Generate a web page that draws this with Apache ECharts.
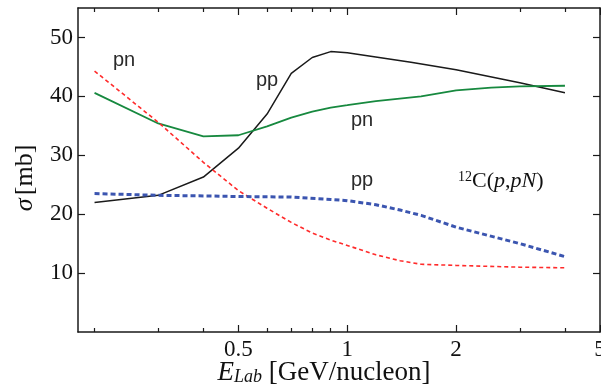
<!DOCTYPE html>
<html>
<head>
<meta charset="utf-8">
<script src="https://cdn.jsdelivr.net/npm/echarts@6/dist/echarts.min.js"></script>
<style>
  html, body { margin: 0; padding: 0; background: #fff; }
  #chart { width: 601px; height: 392px; }
</style>
</head>
<body>
<div id="chart"></div>
<script>
// cross sections sigma [mb] vs E_Lab [GeV/nucleon]
const energyPPfree = [0.2, 0.3, 0.4, 0.5, 0.6, 0.7, 0.8, 0.9, 1.0, 1.5, 2.0, 3.0, 4.0]
const sigmaPPfree = [22.0, 23.2, 26.3, 31.2, 37.0, 43.9, 46.6, 47.6, 47.4, 45.8, 44.5, 42.3, 40.6]

const energyPNfree = [0.2, 0.3, 0.4, 0.5, 0.6, 0.7, 0.8, 0.9, 1.0, 1.2, 1.6, 2.0, 2.5, 3.0, 4.0]
const sigmaPNfree = [40.6, 35.4, 33.2, 33.4, 34.9, 36.4, 37.4, 38.1, 38.5, 39.2, 40.0, 41.0, 41.5, 41.7, 41.8]

const energyPNmed = [0.2, 0.3, 0.4, 0.5, 0.6, 0.7, 0.8, 0.9, 1.0, 1.2, 1.4, 1.6, 2.0, 3.0, 4.0]
const sigmaPNmed = [44.3, 35.6, 28.8, 24.0, 21.0, 18.6, 16.8, 15.6, 14.7, 13.1, 12.1, 11.5, 11.3, 11.0, 10.9]

const energyPPmed = [0.2, 0.3, 0.4, 0.5, 0.7, 0.9, 1.0, 1.2, 1.4, 1.6, 2.0, 3.0, 4.0]
const sigmaPPmed = [23.5, 23.2, 23.1, 23.0, 22.9, 22.5, 22.3, 21.6, 20.7, 19.8, 17.8, 15.0, 12.8]

// axis ticks
const xMajorTicks = [0.5, 1, 2, 5]
const xMinorTicks = [0.2, 0.3, 0.4, 0.6, 0.7, 0.8, 0.9, 3, 4]
const yTicks = [10, 20, 30, 40, 50]

const lg = (v) => Math.log10(v)
const xMin = lg(0.18)
const xMax = lg(5)

const frameColor = "#1a1a1a"
const serif = '"Liberation Serif", "Times New Roman", serif'
const sans = '"Liberation Sans", Arial, sans-serif'

const toPoints = (es, ss) => es.map((e, i) => [lg(e), ss[i]])

function xAxisOf(position, ticks, len, withLine, withLabels) {
  return {
    type: "value",
    position,
    min: xMin,
    max: xMax,
    axisLine: { show: withLine, onZero: false, lineStyle: { color: frameColor, width: 1.5 } },
    axisTick: {
      show: true,
      inside: true,
      length: len,
      customValues: ticks.map(lg),
      lineStyle: { color: frameColor, width: 1.2 },
    },
    axisLabel: {
      show: withLabels,
      customValues: ticks.map(lg),
      margin: 6,
      fontFamily: serif,
      fontSize: 23,
      color: "#111",
      formatter: (v) => String(parseFloat(Math.pow(10, v).toFixed(2))),
    },
    splitLine: { show: false },
  }
}

function yAxisOf(position, withLabels) {
  return {
    type: "value",
    position,
    min: 0,
    max: 55,
    axisLine: { show: true, onZero: false, lineStyle: { color: frameColor, width: 1.5 } },
    axisTick: {
      show: true,
      inside: true,
      length: 7,
      customValues: yTicks,
      lineStyle: { color: frameColor, width: 1.2 },
    },
    axisLabel: {
      show: withLabels,
      customValues: yTicks,
      margin: 5,
      fontFamily: serif,
      fontSize: 23,
      color: "#111",
    },
    splitLine: { show: false },
  }
}

const chart = echarts.init(document.getElementById("chart"))

chart.setOption({
  animation: false,
  backgroundColor: "#fff",
  textStyle: { fontFamily: serif },
  grid: { left: 78, right: 1, top: 8, bottom: 60, outerBoundsMode: "none", containLabel: false },
  xAxis: [
    xAxisOf("bottom", xMajorTicks, 7, true, true),
    xAxisOf("bottom", xMinorTicks, 4, false, false),
    xAxisOf("top", xMajorTicks, 7, true, false),
    xAxisOf("top", xMinorTicks, 4, false, false),
  ],
  yAxis: [yAxisOf("left", true), yAxisOf("right", false)],
  series: [
    {
      name: "pp free",
      type: "line",
      data: toPoints(energyPPfree, sigmaPPfree),
      showSymbol: false,
      lineStyle: { color: "#1a1a1a", width: 1.5 },
    },
    {
      name: "pn free",
      type: "line",
      data: toPoints(energyPNfree, sigmaPNfree),
      showSymbol: false,
      lineStyle: { color: "#17893f", width: 1.8 },
    },
    {
      name: "pn medium",
      type: "line",
      data: toPoints(energyPNmed, sigmaPNmed),
      showSymbol: false,
      lineStyle: { color: "#ff2b2b", width: 1.6, type: [4, 3] },
    },
    {
      name: "pp medium",
      type: "line",
      data: toPoints(energyPPmed, sigmaPPmed),
      showSymbol: false,
      lineStyle: { color: "#3b55b0", width: 3, type: [5, 3] },
    },
  ],
  graphic: [
    { type: "text", x: 124, y: 60, style: { text: "pn", font: `20px ${sans}`, fill: "#2a2a2a", align: "center", verticalAlign: "middle" } },
    { type: "text", x: 267, y: 80, style: { text: "pp", font: `20px ${sans}`, fill: "#2a2a2a", align: "center", verticalAlign: "middle" } },
    { type: "text", x: 362, y: 120, style: { text: "pn", font: `20px ${sans}`, fill: "#2a2a2a", align: "center", verticalAlign: "middle" } },
    { type: "text", x: 362, y: 180, style: { text: "pp", font: `20px ${sans}`, fill: "#2a2a2a", align: "center", verticalAlign: "middle" } },
    {
      type: "text",
      x: 458,
      y: 181,
      style: {
        text: "{sup|12}{n|C(}{i|p}{n|,}{i|pN}{n|)}",
        align: "left",
        verticalAlign: "middle",
        fill: "#111",
        rich: {
          sup: { fontFamily: serif, fontSize: 14, verticalAlign: "top" },
          n: { fontFamily: serif, fontSize: 22 },
          i: { fontFamily: serif, fontSize: 22, fontStyle: "italic" },
        },
      },
    },
    {
      type: "text",
      x: 25,
      y: 178,
      rotation: Math.PI / 2,
      style: {
        text: "{i|σ} {n|[mb]}",
        align: "center",
        verticalAlign: "middle",
        fill: "#111",
        rich: {
          n: { fontFamily: serif, fontSize: 26 },
          i: { fontFamily: serif, fontSize: 26, fontStyle: "italic" },
        },
      },
    },
    {
      type: "text",
      x: 324,
      y: 373,
      style: {
        text: "{i|E}{sub|Lab}{n| [GeV/nucleon]}",
        align: "center",
        verticalAlign: "middle",
        fill: "#111",
        rich: {
          n: { fontFamily: serif, fontSize: 27 },
          i: { fontFamily: serif, fontSize: 27, fontStyle: "italic" },
          sub: { fontFamily: serif, fontSize: 18, fontStyle: "italic", verticalAlign: "bottom", padding: [8, 0, 0, 0] },
        },
      },
    },
  ],
})

window.addEventListener("resize", () => chart.resize())
</script>
</body>
</html>
